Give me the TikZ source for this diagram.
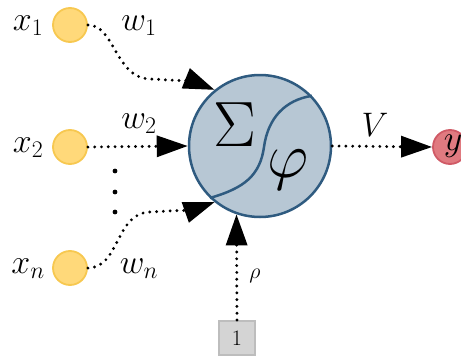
\RequirePackage{fix-cm}
\documentclass[tikz,border=0pt]{standalone}
\usetikzlibrary{arrows.meta}
\definecolor{inFill}{HTML}{FFD97A}
\definecolor{inDraw}{HTML}{F7C850}
\definecolor{mFill}{HTML}{B7C7D4}
\definecolor{mDraw}{HTML}{2F5B80}
\definecolor{outFill}{HTML}{E07A80}
\definecolor{outDraw}{HTML}{D05A66}
\definecolor{bFill}{HTML}{D4D4D4}
\definecolor{bDraw}{HTML}{BDBDBD}
\tikzset{
  x=1pt, y=-1pt,
  inp/.style={circle, fill=inFill, draw=inDraw, line width=1.8pt, minimum size=34pt, inner sep=0pt},
  lbl/.style={font=\fontsize{34}{36}\selectfont, inner sep=0pt},
  conn/.style={line width=3.2pt, line cap=round, dash pattern=on 0pt off 6.8pt,
     -{Triangle[length=31pt,width=21pt]}},
}
\begin{document}
\begin{tikzpicture}
\useasboundingbox (0,0) rectangle (461,356);
% main neuron
\node[circle, fill=mFill, draw=mDraw, line width=2.5pt, minimum size=142pt, inner sep=0pt] (m) at (260,146) {};
\draw[mDraw, line width=2.5pt] (m.226) .. controls (245,188) and (260,175) .. (264,147)
   .. controls (268,118) and (285,100) .. (m.44);
\node[font=\fontsize{64}{64}\selectfont, inner sep=0pt] (sig) at (235,125) {$\Sigma$};
\node[font=\fontsize{64}{64}\selectfont, inner sep=0pt] (phi) at (288,170) {$\varphi$};
% inputs
\node[inp] (x1) at (70,25) {};
\node[inp] (x2) at (70,147) {};
\node[inp] (xn) at (70,268) {};
\node[lbl] (lx1) at (28,26) {$x_1$};
\node[lbl] (lx2) at (28,148) {$x_2$};
\node[lbl] (lxn) at (28,269) {$x_n$};
\node[lbl] (lw1) at (139,26) {$w_1$};
\node[lbl] (lw2) at (139,124) {$w_2$};
\node[lbl] (lwn) at (139,269) {$w_n$};
% vertical dots
\fill (115,171) circle (2.4pt);
\fill (115,192) circle (2.4pt);
\fill (115,212) circle (2.4pt);
% output
\node[circle, fill=outFill, draw=outDraw, line width=1.8pt, minimum size=34pt, inner sep=0pt] (y) at (450,147) {};
\node[font=\fontsize{36}{36}\selectfont, inner sep=0pt] (ly) at (453,146) {$y$};
\node[lbl] (lV) at (375,125) {$V$};
% bias
\node[rectangle, fill=bFill, draw=bDraw, line width=2pt, minimum width=36pt, minimum height=34pt, inner sep=0pt, font=\fontsize{22}{22}\selectfont] (b) at (237,338) {1};
\node[font=\fontsize{22}{22}\selectfont, inner sep=0pt] (lrho) at (255,276) {$\rho$};
% connectors
\draw[conn] (x1.east) .. controls (115,25) and (115,78) .. (150,79)
   .. controls (170,80) and (195,82) .. (m.129);
\draw[conn] (x2.east) -- (m.west);
\draw[conn] (xn.east) .. controls (120,268) and (115,213) .. (150,212)
   .. controls (170,211) and (195,209) .. (m.231);
\draw[conn] (b.north) -- (m.-109);
\draw[conn] (m.east) -- (y.west);
\end{tikzpicture}
\end{document}
